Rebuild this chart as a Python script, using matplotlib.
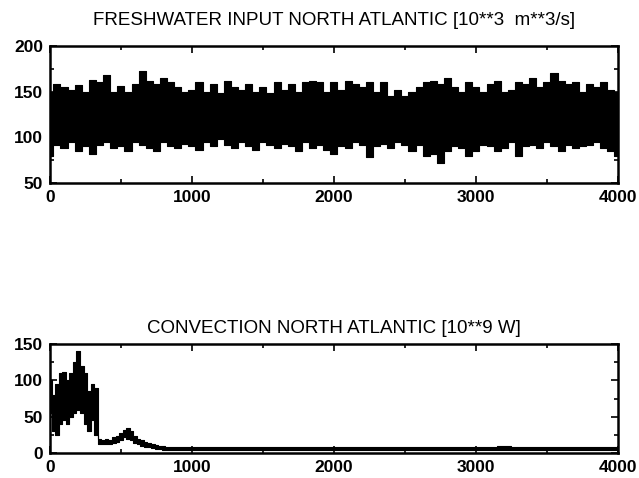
import matplotlib
matplotlib.use('Agg')
import matplotlib.pyplot as plt
from matplotlib.ticker import MultipleLocator
import numpy as np

plt.rcParams['font.family'] = ['Liberation Sans', 'DejaVu Sans']

## Freshwater input, envelope read every 50 years
fw_years = list(range(0, 4001, 50))
fw_upper = [150, 158, 155, 152, 157, 150, 163, 160, 168, 150, 156, 150, 158, 172, 162, 158, 165, 160, 155, 150,
            152, 160, 150, 158, 148, 162, 155, 152, 158, 150, 155, 148, 160, 152, 158, 150, 160, 162, 160, 150,
            160, 152, 162, 158, 155, 160, 150, 160, 145, 152, 145, 150, 155, 160, 162, 158, 165, 155, 150, 160,
            155, 150, 158, 162, 150, 152, 160, 158, 165, 155, 160, 170, 162, 158, 160, 150, 158, 155, 160, 152, 150]
fw_lower = [80, 92, 88, 95, 85, 90, 82, 92, 95, 88, 90, 85, 95, 92, 88, 85, 95, 90, 88, 93,
            90, 86, 95, 90, 98, 92, 88, 95, 90, 86, 95, 92, 88, 93, 90, 85, 95, 88, 92, 86,
            82, 90, 88, 95, 92, 78, 90, 93, 88, 95, 92, 85, 92, 80, 82, 72, 85, 90, 88, 80,
            85, 92, 90, 85, 88, 95, 80, 90, 92, 88, 95, 90, 85, 92, 88, 90, 92, 95, 88, 85, 80]

## Convection, envelope: every 25 years up to 1000, then every 100
conv_years = list(range(0, 1001, 25)) + list(range(1100, 4001, 100))
conv_upper = [100, 80, 95, 110, 112, 100, 110, 125, 140, 120, 110, 85, 95, 90, 20, 18, 20, 18, 22, 24,
              28, 32, 34, 30, 24, 20, 18, 15, 14, 12, 11, 10, 10, 9, 9, 9, 9, 9, 9, 9, 9,
              8, 8, 8, 8, 8, 8, 8, 8, 8, 8, 8, 8, 8, 8, 8, 8, 8, 8, 8, 8, 9, 10, 9, 8, 8, 8, 9, 9, 8, 8]
conv_lower = [55, 30, 25, 40, 45, 40, 50, 55, 60, 55, 40, 30, 45, 25, 12, 12, 13, 12, 14, 16,
              18, 22, 20, 18, 14, 12, 10, 9, 8, 7, 6, 6, 5, 5, 5, 5, 5, 5, 5, 5, 5,
              4, 4, 4, 4, 4, 4, 4, 4, 4, 4, 4, 4, 4, 4, 4, 4, 4, 4, 4, 4, 4, 5, 4, 4, 4, 4, 4, 4, 4, 4]


def style_axes(ax, ymin, ymax, ymajor, yminor):
    ax.set_xlim(0, 4000)
    ax.set_ylim(ymin, ymax)
    ax.xaxis.set_major_locator(MultipleLocator(1000))
    ax.xaxis.set_minor_locator(MultipleLocator(500))
    ax.yaxis.set_major_locator(MultipleLocator(ymajor))
    ax.yaxis.set_minor_locator(MultipleLocator(yminor))
    ax.tick_params(which='both', direction='in', top=True, right=True, width=1.2)
    ax.tick_params(which='major', length=5, labelsize=12.5, pad=5)
    ax.tick_params(which='minor', length=3)
    for lab in ax.get_xticklabels() + ax.get_yticklabels():
        lab.set_fontweight('bold')
    for sp in ax.spines.values():
        sp.set_linewidth(1.8)


fig = plt.figure(figsize=(6.39, 4.78), dpi=100)

ax1 = fig.add_axes([0.078, 0.617, 0.889, 0.287])
ax1.fill_between(fw_years, fw_lower, fw_upper, step='mid', color='black', linewidth=0.8)
style_axes(ax1, 50, 200, 50, 25)
ax1.set_title('FRESHWATER INPUT NORTH ATLANTIC [10**3  m**3/s]', fontsize=13.5, pad=15)

ax2 = fig.add_axes([0.078, 0.052, 0.889, 0.228])
ax2.fill_between(conv_years, conv_lower, conv_upper, step='mid', color='black', linewidth=0.8)
style_axes(ax2, 0, 150, 50, 25)
ax2.set_title('CONVECTION NORTH ATLANTIC [10**9 W]', fontsize=13.5, pad=8)

plt.savefig('out.png', dpi=100)
